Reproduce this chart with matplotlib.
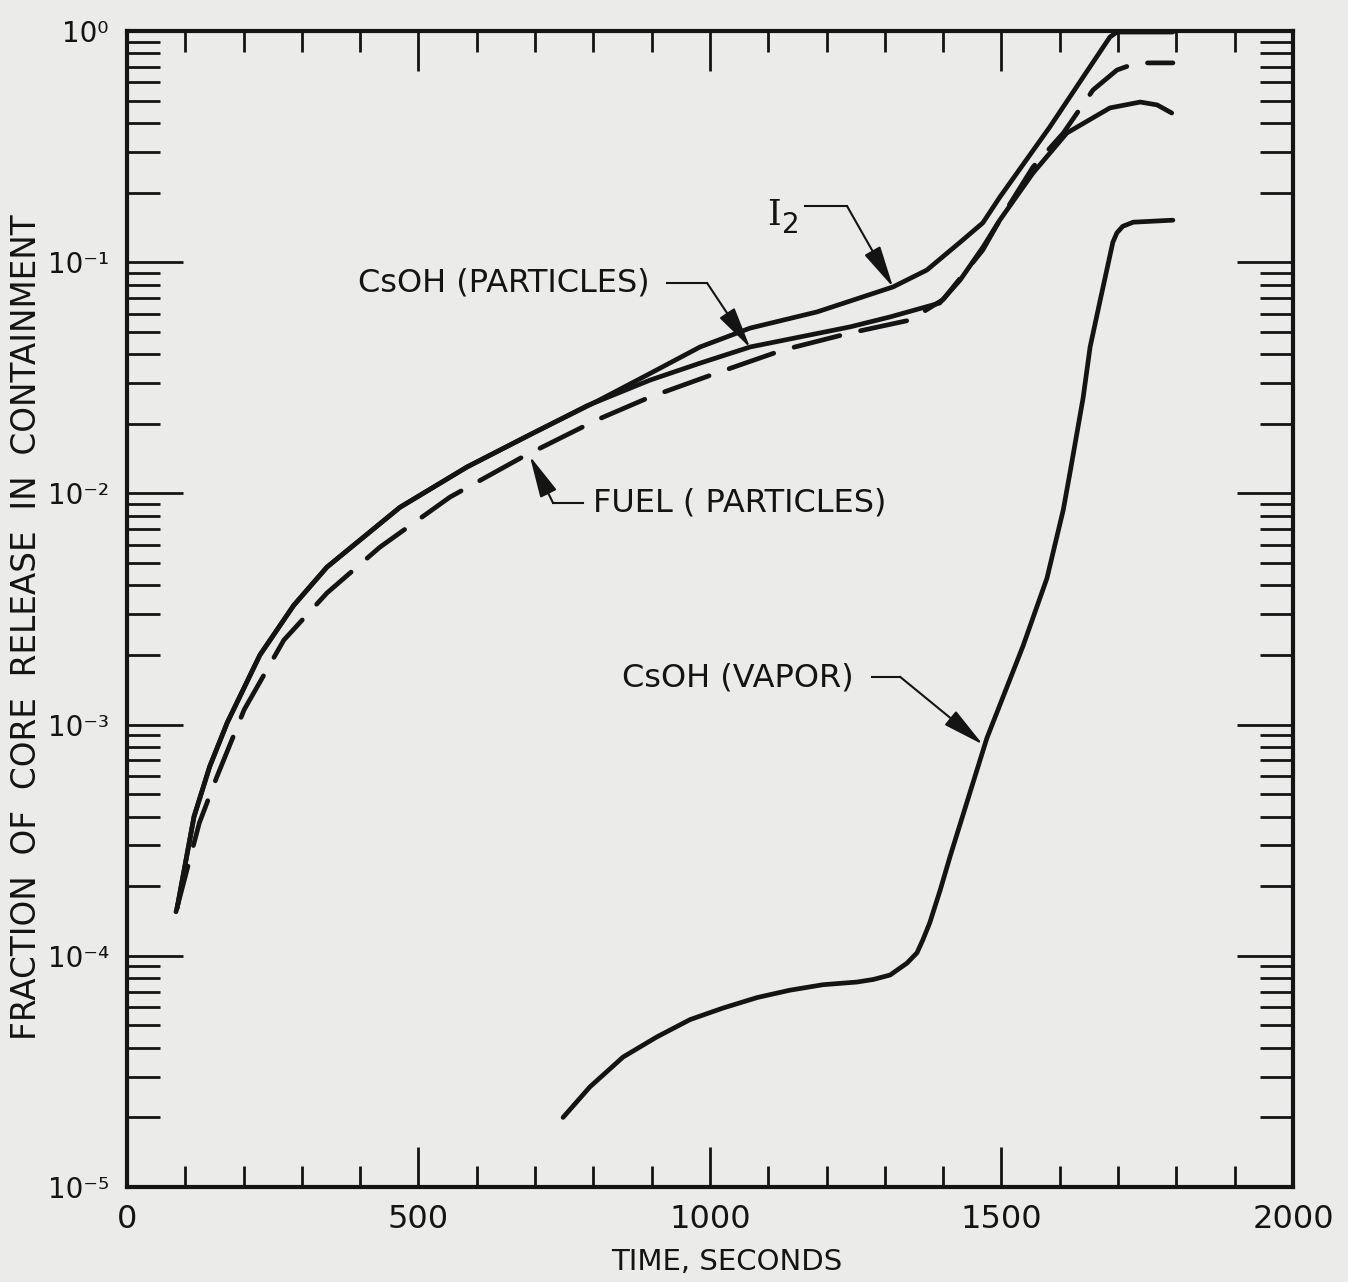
import matplotlib
matplotlib.use('Agg')
import matplotlib.pyplot as plt
from matplotlib.ticker import MultipleLocator, LogLocator, NullFormatter, FixedLocator, FixedFormatter

plt.rcParams['font.family'] = ['DejaVu Sans']

# time (s) and fraction of core release
i2_t = [86, 115, 142, 172, 228, 286, 343, 468, 583, 696, 811, 897, 983, 1069,
        1184, 1314, 1372, 1429, 1468, 1497, 1583, 1640, 1686, 1698, 1794]
i2_f = [1.61e-4, 4.0e-4, 6.6e-4, 1.02e-3, 2.0e-3, 3.28e-3, 4.8e-3, 8.7e-3, 1.30e-2,
        1.82e-2, 2.54e-2, 3.3e-2, 4.30e-2, 5.19e-2, 6.10e-2, 7.82e-2, 9.25e-2,
        0.122, 0.148, 0.191, 0.385, 0.632, 0.942, 0.99, 0.99]

csp_t = [86, 115, 142, 172, 228, 286, 343, 468, 583, 696, 790, 897, 983, 1069,
         1240, 1309, 1394, 1429, 1468, 1497, 1554, 1612, 1686, 1738, 1767, 1792]
csp_f = [1.61e-4, 4.0e-4, 6.6e-4, 1.02e-3, 2.0e-3, 3.28e-3, 4.8e-3, 8.7e-3, 1.30e-2,
         1.82e-2, 2.4e-2, 3.09e-2, 3.66e-2, 4.30e-2, 5.25e-2, 5.8e-2, 6.66e-2,
         8.37e-2, 0.116, 0.152, 0.243, 0.362, 0.465, 0.493, 0.479, 0.442]

fuel_t = [84, 124, 154, 201, 269, 343, 434, 554, 679, 806, 897, 1012, 1125, 1240,
          1343, 1400, 1468, 1497, 1554, 1606, 1657, 1698, 1732, 1794]
fuel_f = [1.55e-4, 3.75e-4, 5.93e-4, 1.16e-3, 2.32e-3, 3.71e-3, 5.86e-3, 9.64e-3,
          1.44e-2, 2.08e-2, 2.61e-2, 3.32e-2, 4.17e-2, 4.94e-2, 5.62e-2, 6.9e-2,
          0.113, 0.152, 0.258, 0.362, 0.556, 0.678, 0.728, 0.728]

vap_t = [748, 794, 851, 909, 966, 1022, 1081, 1137, 1194, 1252, 1280, 1309, 1338,
         1355, 1365, 1377, 1395, 1412, 1475, 1537, 1578, 1606, 1618, 1640, 1652,
         1669, 1691, 1698, 1708, 1726, 1794]
vap_f = [2.0e-5, 2.71e-5, 3.65e-5, 4.46e-5, 5.3e-5, 5.94e-5, 6.6e-5, 7.1e-5, 7.5e-5,
         7.7e-5, 7.9e-5, 8.26e-5, 9.3e-5, 1.03e-4, 1.17e-4, 1.39e-4, 1.93e-4, 2.7e-4,
         8.75e-4, 2.19e-3, 4.3e-3, 8.5e-3, 1.25e-2, 2.59e-2, 4.3e-2, 6.8e-2, 0.122,
         0.134, 0.143, 0.149, 0.152]

y_ticks = [1e-5, 1e-4, 1e-3, 1e-2, 1e-1, 1e0]
y_labels = ['10\u207b\u2075', '10\u207b\u2074', '10\u207b\u00b3', '10\u207b\u00b2',
            '10\u207b\u00b9', '10\u2070']

ink = '#141414'
paper = '#ebebe9'

fig = plt.figure(figsize=(13.48, 12.82), dpi=100, facecolor=paper)
ax = fig.add_axes([0.0942, 0.0741, 0.8650, 0.9017], facecolor=paper)

lw = 3.4
ax.plot(i2_t, i2_f, color=ink, lw=lw, solid_capstyle='round', solid_joinstyle='round')
ax.plot(csp_t, csp_f, color=ink, lw=lw, solid_capstyle='round', solid_joinstyle='round')
ax.plot(fuel_t, fuel_f, color=ink, lw=lw, dashes=(10, 4.5), dash_capstyle='round')
ax.plot(vap_t, vap_f, color=ink, lw=lw, solid_capstyle='round', solid_joinstyle='round')

ax.set_yscale('log')
ax.set_xlim(0, 2000)
ax.set_ylim(1e-5, 1)

ax.xaxis.set_major_locator(MultipleLocator(500))
ax.xaxis.set_minor_locator(MultipleLocator(100))
ax.yaxis.set_major_locator(FixedLocator(y_ticks))
ax.yaxis.set_major_formatter(FixedFormatter(y_labels))
ax.yaxis.set_minor_locator(LogLocator(base=10, subs=range(2, 10), numticks=20))
ax.yaxis.set_minor_formatter(NullFormatter())

ax.tick_params(axis='x', which='major', direction='in', length=29, width=2,
               top=True, labelsize=23, pad=12, colors=ink)
ax.tick_params(axis='x', which='minor', direction='in', length=15, width=2, top=True, colors=ink)
ax.tick_params(axis='y', which='major', direction='in', length=40, width=2,
               right=True, labelsize=20, pad=13, colors=ink)
ax.tick_params(axis='y', which='minor', direction='in', length=24, width=2, right=True, colors=ink)
for s in ax.spines.values():
    s.set_linewidth(3)
    s.set_color(ink)

fig.text(0.5393, 0.0155, 'TIME, SECONDS', fontsize=21, ha='center', va='center', color=ink)
fig.text(0.0195, 0.511, 'FRACTION  OF  CORE  RELEASE  IN  CONTAINMENT', fontsize=23.5,
         rotation=90, ha='center', va='center', color=ink)

# labels with elbow leaders
arrow = dict(arrowstyle='-|>,head_length=1.3,head_width=0.28', color=ink, lw=1.5,
             mutation_scale=20, shrinkA=0, shrinkB=0)
lead = dict(color=ink, lw=1.5)

ax.text(1098, 0.16, 'I', fontsize=25, family='DejaVu Serif', ha='left', va='center', color=ink)
ax.text(1124, 0.145, '2', fontsize=20, ha='left', va='center', color=ink)
ax.plot([1163, 1235], [0.175, 0.175], **lead)
ax.annotate('', xy=(1314, 0.078), xytext=(1235, 0.175), arrowprops=arrow)

ax.text(396, 0.0813, 'CsOH (PARTICLES)', fontsize=23, ha='left', va='center', color=ink)
ax.plot([926, 995], [0.0813, 0.0813], **lead)
ax.annotate('', xy=(1069, 0.0426), xytext=(995, 0.0813), arrowprops=arrow)

ax.text(799, 0.00908, 'FUEL ( PARTICLES)', fontsize=23, ha='left', va='center', color=ink)
ax.plot([782, 731], [0.00908, 0.00908], **lead)
ax.annotate('', xy=(691, 0.0145), xytext=(731, 0.00908), arrowprops=arrow)

ax.text(849, 1.59e-3, 'CsOH (VAPOR)', fontsize=23, ha='left', va='center', color=ink)
ax.plot([1278, 1326], [1.61e-3, 1.61e-3], **lead)
ax.annotate('', xy=(1468, 8.2e-4), xytext=(1326, 1.61e-3), arrowprops=arrow)

fig.savefig('out.png', dpi=100, facecolor=paper)
